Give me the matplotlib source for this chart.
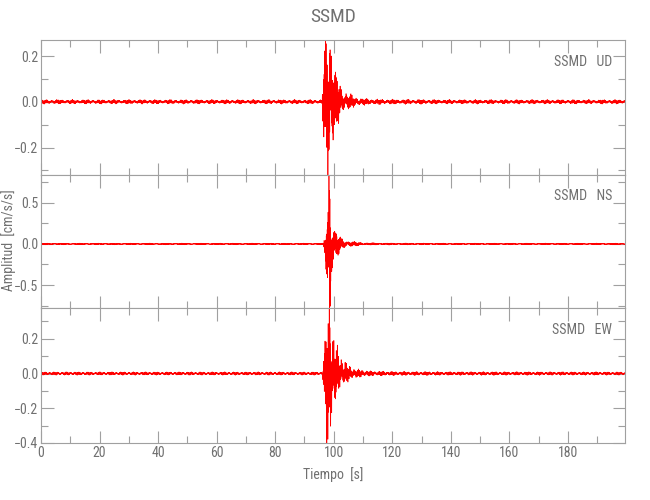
import numpy as np
import matplotlib
matplotlib.use("Agg")
import matplotlib.pyplot as plt
from matplotlib.ticker import MultipleLocator, FuncFormatter
from matplotlib import font_manager

# ---------------- data ----------------
station = "SSMD"
components = ["UD", "NS", "EW"]
ylims = [(-0.32, 0.27), (-0.78, 0.84), (-0.40, 0.377)]
ymajor = [0.2, 0.5, 0.2]
yminor = [0.1, 0.25, 0.1]
xticks = [0, 20, 40, 60, 80, 100, 120, 140, 160, 180]
t_end = 199.5

# envelope knots: time (s), positive envelope, negative envelope
env_t = {
    "UD": [0, 96.0, 96.3, 97.0, 97.8, 98.5, 99.2, 100.0, 101.0, 102.5, 104.5, 107.0, 110.0, 115.0, 125.0, 140.0, 199.5],
    "NS": [0, 96.5, 96.9, 97.5, 98.1, 98.5, 98.9, 99.5, 100.2, 101.5, 103.0, 105.0, 108.0, 112.0, 120.0, 140.0, 199.5],
    "EW": [0, 96.2, 96.5, 97.2, 97.9, 98.4, 98.9, 99.6, 100.5, 101.8, 103.0, 105.0, 108.0, 112.0, 120.0, 140.0, 199.5],
}
env_pos = {
    "UD": [0.008, 0.008, 0.10, 0.18, 0.23, 0.27, 0.20, 0.13, 0.09, 0.06, 0.035, 0.02, 0.013, 0.010, 0.009, 0.008, 0.008],
    "NS": [0.008, 0.008, 0.10, 0.20, 0.40, 0.84, 0.40, 0.20, 0.13, 0.09, 0.06, 0.035, 0.02, 0.013, 0.010, 0.008, 0.008],
    "EW": [0.008, 0.008, 0.08, 0.14, 0.24, 0.30, 0.377, 0.20, 0.13, 0.10, 0.09, 0.04, 0.022, 0.014, 0.010, 0.009, 0.008],
}
env_neg = {
    "UD": [0.008, 0.008, 0.09, 0.17, 0.26, 0.32, 0.22, 0.13, 0.09, 0.055, 0.03, 0.02, 0.013, 0.010, 0.009, 0.008, 0.008],
    "NS": [0.008, 0.008, 0.10, 0.22, 0.45, 0.78, 0.35, 0.18, 0.11, 0.08, 0.05, 0.03, 0.018, 0.012, 0.010, 0.008, 0.008],
    "EW": [0.008, 0.008, 0.08, 0.16, 0.30, 0.40, 0.30, 0.17, 0.11, 0.08, 0.065, 0.035, 0.02, 0.013, 0.010, 0.009, 0.008],
}
carrier_freqs = {"UD": (5.3, 7.9, 0.37, 0.21), "NS": (6.1, 9.7, 0.53, 0.17), "EW": (5.7, 8.3, 0.29, 0.26)}

# ---------------- style ----------------
names = {f.name for f in font_manager.fontManager.ttflist}
for cand in ["Liberation Sans Narrow", "Roboto Condensed", "Open Sans Condensed", "DejaVu Sans"]:
    if cand in names:
        fam = cand
        break
plt.rcParams["font.family"] = [fam, "DejaVu Sans"]
plt.rcParams["font.stretch"] = "condensed"
gray = "#707070"
plt.rcParams.update({
    "axes.edgecolor": "#a0a0a0", "xtick.color": "#a0a0a0", "ytick.color": "#a0a0a0",
    "xtick.labelcolor": gray, "ytick.labelcolor": gray, "axes.linewidth": 0.8,
})

fig = plt.figure(figsize=(6.5, 5.0), dpi=100)
left, width = 41 / 650, 584 / 650
bounds = [(40, 175), (175, 308), (308, 443)]
fmt = FuncFormatter(lambda v, p: f"{v:.1f}".replace("-", "\u2212") if abs(v) > 1e-9 else "0.0")


def boost(y, w, target):
    """Find a gain k so that the largest |y*(1+(k-1)w)| equals target."""
    lo, hi = 0.2, 20.0
    for _ in range(60):
        k = 0.5 * (lo + hi)
        m = np.max(np.abs(y * (1 + (k - 1) * w)))
        if m > target:
            hi = k
        else:
            lo = k
    return y * (1 + (lo - 1) * w)


t = np.arange(0, t_end + 1e-9, 0.01)
axes = []
for i, comp in enumerate(components):
    top, bot = bounds[i]
    ax = fig.add_axes([left, 1 - bot / 500, width, (bot - top) / 500])
    axes.append(ax)
    f1, f2, fm, fw = carrier_freqs[comp]
    c = np.sin(2 * np.pi * f1 * t + 1.7 * np.sin(2 * np.pi * fm * t)) * (0.65 + 0.35 * np.sin(2 * np.pi * f2 * t))
    c = c * (0.75 + 0.25 * np.sin(2 * np.pi * fw * t)) + 0.3 * np.sin(2 * np.pi * 2.7 * fw * t + 1.0)
    ep = np.interp(t, env_t[comp], env_pos[comp])
    en = np.interp(t, env_t[comp], env_neg[comp])
    y = np.where(c >= 0, c * ep, c * en)
    # boost only the event part so the extremes match the peaks
    pmax, nmax = max(env_pos[comp]), max(env_neg[comp])
    wp = (ep - ep.min()) / (pmax - ep.min())
    wn = (en - en.min()) / (nmax - en.min())
    ypos = boost(np.where(y >= 0, y, 0.0), wp, pmax)
    yneg = boost(np.where(y < 0, y, 0.0), wn, nmax)
    y = ypos + yneg
    ax.plot(t, y, color="red", lw=0.5)
    ax.set_xlim(0, t_end)
    ax.set_ylim(*ylims[i])
    ax.xaxis.set_major_locator(MultipleLocator(20))
    ax.xaxis.set_minor_locator(MultipleLocator(10))
    ax.yaxis.set_major_locator(MultipleLocator(ymajor[i]))
    ax.yaxis.set_minor_locator(MultipleLocator(yminor[i]))
    ax.tick_params(which="both", direction="in", top=True, right=True, labelsize=10, width=0.8, pad=2)
    ax.tick_params(which="major", length=9)
    ax.tick_params(which="minor", length=5)
    if i < 2:
        ax.tick_params(labelbottom=False)
    else:
        ax.set_xticks(xticks)
    ax.yaxis.set_major_formatter(fmt)
    ax.text(0.978, 0.84, f"{station}   {comp}", transform=ax.transAxes, ha="right", va="center",
            fontsize=10, color=gray)

fig.text(0.5 * (left + left + width), 1 - 17 / 500, station, ha="center", va="center", fontsize=14, color=gray)
fig.text(9 / 650, 1 - 240 / 500, "Amplitud  [cm/s/s]", rotation=90, ha="center", va="center", fontsize=10, color=gray)
axes[2].set_xlabel("Tiempo  [s]", fontsize=10, color=gray, labelpad=5)

fig.savefig("out.png", dpi=100)
